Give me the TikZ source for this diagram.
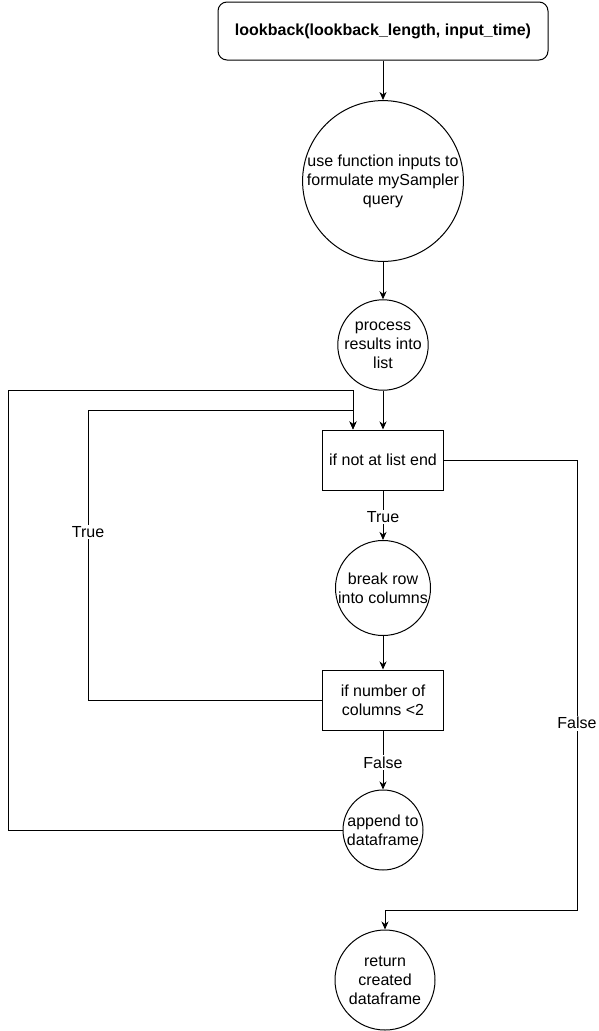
\documentclass[tikz,border=0pt]{standalone}
\usepackage{fontspec}
\setmainfont{Liberation Sans}
\usetikzlibrary{arrows.meta}
\begin{document}
\begin{tikzpicture}[x=1pt,y=-1pt,
  every node/.style={font=\fontsize{16}{19}\selectfont, align=center},
  box/.style={draw, line width=1pt, minimum width=121pt, minimum height=60pt, inner sep=0pt},
  circ/.style={draw, circle, line width=1pt, inner sep=0pt},
  conn/.style={line width=1pt, -{Stealth[length=8pt,width=7pt,inset=2.5pt]}},
  lbl/.style={fill=white, inner sep=1.5pt}
]
\useasboundingbox (0,0) rectangle (598,1031);
\node[draw, rounded corners=9pt, line width=1pt, minimum width=330pt, minimum height=58pt, font=\fontsize{16}{19}\selectfont\bfseries] (top) at (383,31) {lookback(lookback\_length, input\_time)};
\node[circ, minimum size=156pt] (c1) at (383,181) {use function inputs to\\formulate mySampler\\query};
\node[circ, minimum size=90pt] (c2) at (383,345) {process\\results into\\list};
\node[box] (r1) at (383,460) {if not at list end};
\node[circ, minimum size=95pt] (c3) at (383,588) {break row\\into columns};
\node[box] (r2) at (383,700) {if number of\\columns <2};
\node[circ, minimum size=80pt] (c4) at (383,830) {append to\\dataframe};
\node[circ, minimum size=100pt] (c5) at (385,980) {return\\created\\dataframe};

\coordinate (r1in) at ([xshift=-30pt]r1.north);
\coordinate (a1) at (88,700);
\coordinate (a2) at (88,410);
\coordinate (a3) at (353,410);
\coordinate (b1) at (8,830);
\coordinate (b2) at (8,390);
\coordinate (b3) at (353,390);
\coordinate (f1) at (577,460);
\coordinate (f2) at (577,910);
\coordinate (f3) at (385,910);

\draw[conn] (top.south) -- (c1.north);
\draw[conn] (c1.south) -- (c2.north);
\draw[conn] (c2.south) -- (r1.north);
\draw[conn] (r1.south) -- node[lbl, pos=0.54] (t1) {True} (c3.north);
\draw[conn] (c3.south) -- (r2.north);
\draw[conn] (r2.south) -- node[lbl, pos=0.54] (t2) {False} (c4.north);
\draw[conn] (r2.west) -- (a1) -- node[lbl, pos=0.58] (t3) {True} (a2) -- (a3) -- (r1in);
\draw[conn] (c4.west) -- (b1) -- (b2) -- (b3) -- (r1in);
\draw[conn] (r1.east) -- (f1) -- node[lbl, pos=0.585] (t4) {False} (f2) -- (f3) -- (c5.north);
\end{tikzpicture}
\end{document}
